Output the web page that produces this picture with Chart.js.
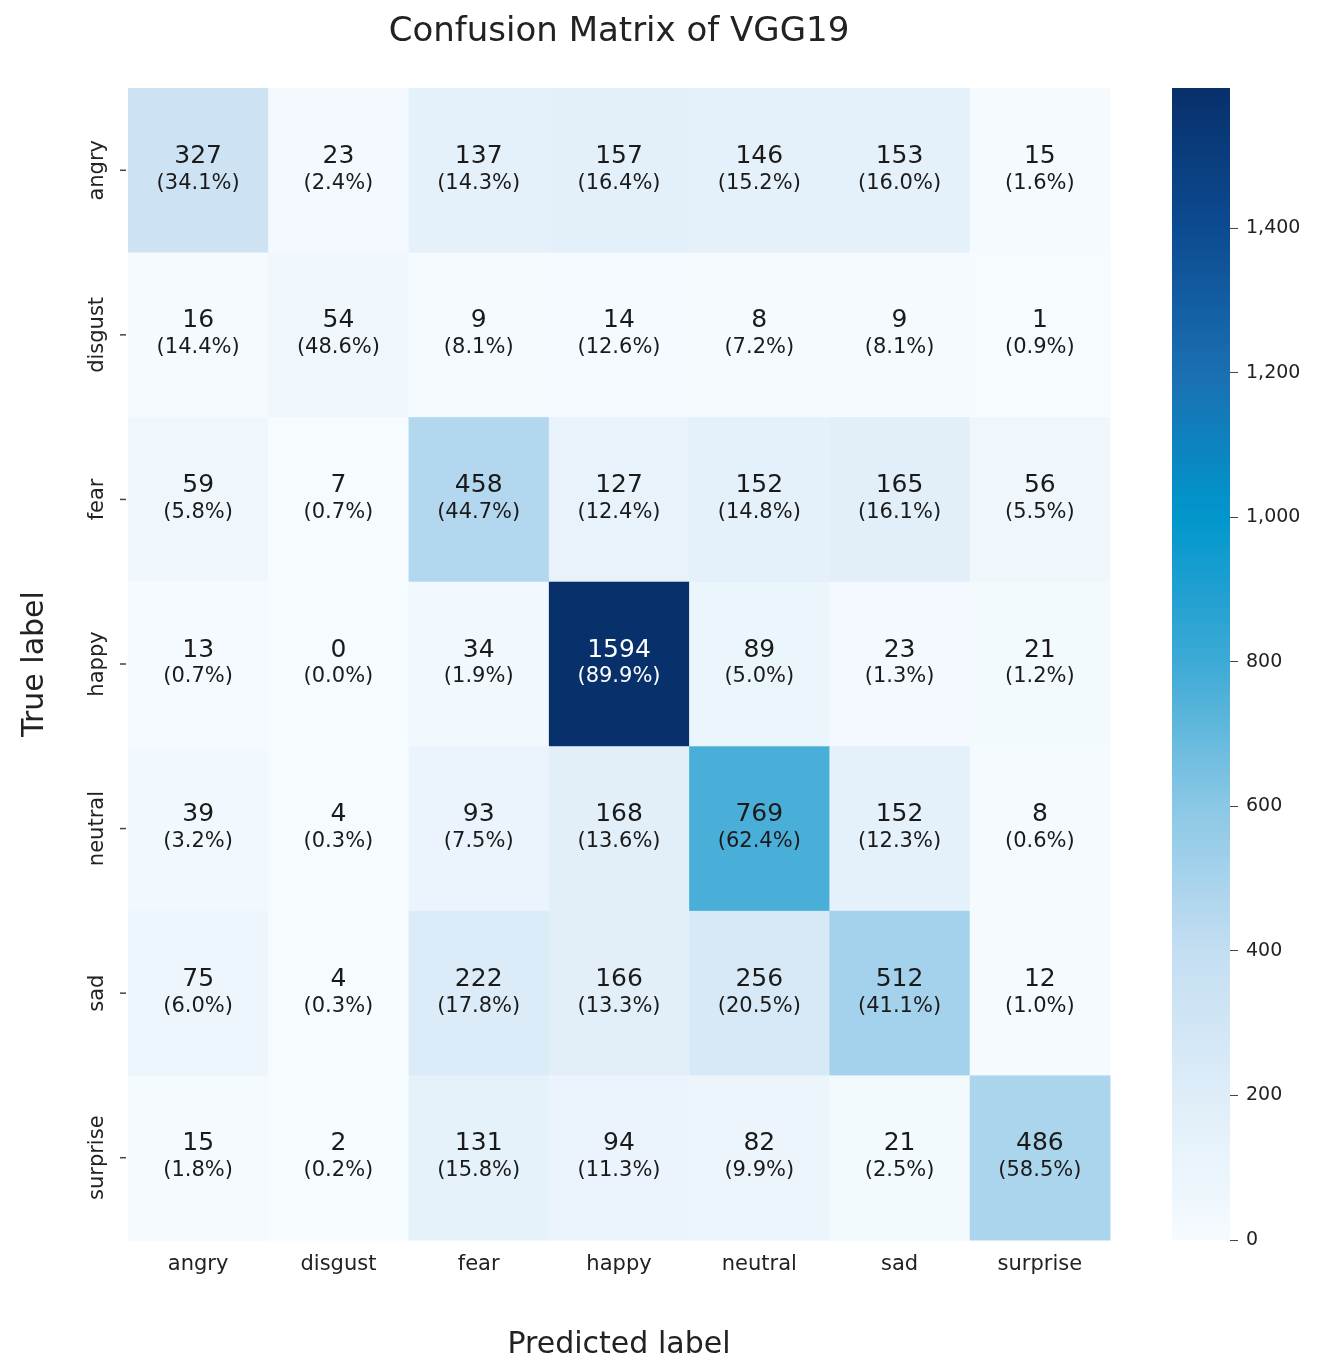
<!DOCTYPE html>
<html><head><meta charset="utf-8">
<script src="https://cdn.jsdelivr.net/npm/chart.js@4/dist/chart.umd.min.js"></script>
<style>body{margin:0;background:#fff;width:1320px;height:1367px;position:relative;overflow:hidden}
#c1{position:absolute;left:0;top:0}#c2{position:absolute;left:1160px;top:0}</style></head>
<body><canvas id="c1" width="1320" height="1367"></canvas><canvas id="c2" width="160" height="1367"></canvas>
<script>
const labels = ["angry","disgust","fear","happy","neutral","sad","surprise"];
const rowAngry   = [327,23,137,157,146,153,15];
const rowDisgust = [16,54,9,14,8,9,1];
const rowFear    = [59,7,458,127,152,165,56];
const rowHappy   = [13,0,34,1594,89,23,21];
const rowNeutral = [39,4,93,168,769,152,8];
const rowSad     = [75,4,222,166,256,512,12];
const rowSurprise= [15,2,131,94,82,21,486];
const matrix = [rowAngry,rowDisgust,rowFear,rowHappy,rowNeutral,rowSad,rowSurprise];
const colorbarTicks = [0,200,400,600,800,1000,1200,1400];
const vmax = 1594;
const FONT = "'DejaVu Sans', sans-serif";
const stops = [[0,[246,251,255]],[0.125,[222,237,248]],[0.25,[196,222,242]],[0.375,[140,200,230]],[0.5,[62,170,214]],[0.63,[0,150,204]],[0.75,[26,112,178]],[0.875,[12,76,146]],[1,[8,48,107]]];
function cmap(t){t=Math.max(0,Math.min(1,t));for(let i=1;i<stops.length;i++){if(t<=stops[i][0]){const a=stops[i-1],b=stops[i],f=(t-a[0])/(b[0]-a[0]);return 'rgb('+a[1].map((v,k)=>Math.round(v+(b[1][k]-v)*f)).join(',')+')';}}return 'rgb(8,48,107)';}

const cells=[];matrix.forEach((r,i)=>r.forEach((v,j)=>cells.push({x:labels[j],y:labels[i],v,p:v/r.reduce((a,b)=>a+b,0)*100})));

const heatPlugin={id:'heat',afterDatasetsDraw(chart){
  const ctx=chart.ctx,xs=chart.scales.x,ys=chart.scales.y;
  const w=(xs.right-xs.left)/labels.length,h=(ys.bottom-ys.top)/labels.length;
  ctx.save();
  cells.forEach(c=>{const cx=xs.getPixelForValue(labels.indexOf(c.x)),cy=ys.getPixelForValue(labels.indexOf(c.y));
    ctx.fillStyle=cmap(c.v/vmax);ctx.fillRect(cx-w/2,cy-h/2,w+0.5,h+0.5);
    ctx.fillStyle=c.v/vmax>0.55?'#fff':'#1a1a1a';ctx.textAlign='center';ctx.textBaseline='middle';
    ctx.font='25px '+FONT;ctx.fillText(String(c.v),cx,cy-14);
    ctx.font='21px '+FONT;ctx.fillText('('+c.p.toFixed(1)+'%)',cx,cy+13);});
  ctx.fillStyle='#222';ctx.strokeStyle='#444';ctx.lineWidth=1.5;
  labels.forEach((l,i)=>{const cy=ys.getPixelForValue(i);
    ctx.beginPath();ctx.moveTo(xs.left-8,cy);ctx.lineTo(xs.left-2,cy);ctx.stroke();
    ctx.save();ctx.translate(xs.left-30,cy);ctx.rotate(-Math.PI/2);ctx.font='21px '+FONT;ctx.textAlign='center';ctx.textBaseline='middle';ctx.fillText(l,0,0);ctx.restore();});
  ctx.font='34px '+FONT;ctx.textAlign='center';ctx.textBaseline='middle';ctx.fillText('Confusion Matrix of VGG19',619,32);
  ctx.save();ctx.translate(35,664);ctx.rotate(-Math.PI/2);ctx.font='30px '+FONT;ctx.fillText('True label',0,0);ctx.restore();
  ctx.restore();}};

new Chart(document.getElementById('c1'),{type:'scatter',data:{datasets:[{data:[]}]},
 options:{responsive:false,animation:false,events:[],layout:{padding:{top:88,right:210,left:0,bottom:0}},
  plugins:{legend:{display:false},tooltip:{enabled:false}},
  scales:{x:{type:'category',labels:labels,offset:true,grid:{display:false,drawTicks:true},border:{display:false},
     ticks:{color:'#222',font:{family:FONT,size:21},padding:4},
     title:{display:true,text:'Predicted label',color:'#222',font:{family:FONT,size:30},padding:{top:22}},
     afterFit:s=>{s.height=127;}},
   y:{type:'category',labels:labels,offset:true,grid:{display:false},border:{display:false},ticks:{display:false},
     afterFit:s=>{s.width=128;}}}},
 plugins:[heatPlugin]});

const cbPlugin={id:'cb',beforeDatasetsDraw(chart){const ctx=chart.ctx,a=chart.chartArea,ys=chart.scales.y;
  const g=ctx.createLinearGradient(0,ys.getPixelForValue(0),0,ys.getPixelForValue(vmax));
  for(let i=0;i<=40;i++)g.addColorStop(i/40,cmap(i/40));
  ctx.fillStyle=g;ctx.fillRect(a.left,a.top,a.right-a.left,a.bottom-a.top);}};
new Chart(document.getElementById('c2'),{type:'scatter',data:{datasets:[{data:[]}]},
 options:{responsive:false,animation:false,events:[],layout:{padding:{top:88,left:12,bottom:127,right:0}},
  plugins:{legend:{display:false},tooltip:{enabled:false}},
  scales:{x:{display:false,min:0,max:1},
   y:{position:'right',min:0,max:vmax,afterBuildTicks:s=>{s.ticks=colorbarTicks.map(v=>({value:v}));},
     grid:{display:true,drawOnChartArea:false,tickLength:8,color:'#444'},border:{display:false},
     ticks:{color:'#222',font:{family:FONT,size:19},padding:8},afterFit:s=>{s.width=90;}}}},
 plugins:[cbPlugin]});
</script></body></html>
